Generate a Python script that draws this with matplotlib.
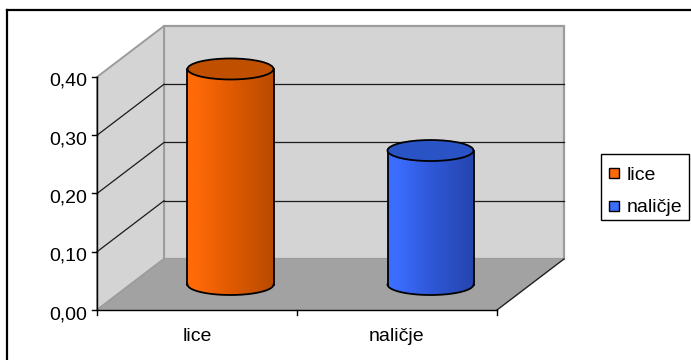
import numpy as np
import matplotlib
matplotlib.use("Agg")
import matplotlib.pyplot as plt
from matplotlib.patches import Polygon, Ellipse, Rectangle
from matplotlib.colors import LinearSegmentedColormap
from matplotlib.lines import Line2D
from matplotlib.transforms import offset_copy

# ---- data ----
categories = ["lice", "naličje"]
values = [0.37, 0.23]
y_ticks = [0.0, 0.1, 0.2, 0.3, 0.4]
y_tick_labels = ["0,00", "0,10", "0,20", "0,30", "0,40"]
legend_labels = ["lice", "naličje"]

# cylinder shading per series: (light side, middle, dark side, top face)
shades = [("#ff6a08", "#e05a00", "#b84a00", "#c05000"),
          ("#3b6dff", "#2f58d8", "#2545ae", "#2a53c6")]

plt.rcParams["font.family"] = ["Liberation Sans", "DejaVu Sans"]
FS = 14

W, H = 691, 360
fig = plt.figure(figsize=(W / 100, H / 100), dpi=100)
fig.patch.set_facecolor("white")

# front plane of the plot area, in pixels
PX_LEFT, PX_RIGHT = 97, 497
PX_ZERO, PX_TOP = 310, 77
Y_MAX = 0.4
n = len(categories)
px_per_cat = (PX_RIGHT - PX_LEFT) / n
px_per_unit = (PX_ZERO - PX_TOP) / Y_MAX

ax = fig.add_axes([0, 0, 1, 1])
ax.set_axis_off()
xlim = (-0.5 - PX_LEFT / px_per_cat, -0.5 + (W - PX_LEFT) / px_per_cat)
ylim = (-(H - PX_ZERO) / px_per_unit, PX_ZERO / px_per_unit)

# depth of the 3-D box (oblique projection)
DX = 67 / px_per_cat
DY = 51 / px_per_unit
x_lo, x_hi = -0.5, n - 0.5

wall_c = "#d4d4d4"
floor_c = "#a2a2a2"
edge_c = "#9c9c9c"

# back wall
ax.add_patch(Polygon([(x_lo + DX, DY), (x_hi + DX, DY),
                      (x_hi + DX, Y_MAX + DY), (x_lo + DX, Y_MAX + DY)],
                     closed=True, fc=wall_c, ec=edge_c, lw=1.6, zorder=1))
# side wall
ax.add_patch(Polygon([(x_lo, 0), (x_lo, Y_MAX), (x_lo + DX, Y_MAX + DY),
                      (x_lo + DX, DY)],
                     closed=True, fc=wall_c, ec=edge_c, lw=1.4, zorder=1))
# floor
ax.add_patch(Polygon([(x_lo, 0), (x_hi, 0), (x_hi + DX, DY), (x_lo + DX, DY)],
                     closed=True, fc=floor_c, ec="none", zorder=1.5))
ax.plot([x_hi, x_hi + DX], [0, DY], color="#202020", lw=1.0, zorder=2)
ax.plot([x_lo, x_lo + DX], [0, DY], color=edge_c, lw=1.2, zorder=2)

# gridlines on the back and side walls
for t in y_ticks[1:-1]:
    ax.plot([x_lo + DX, x_hi + DX], [t + DY, t + DY], color="#1a1a1a",
            lw=0.9, zorder=2)
    ax.plot([x_lo, x_lo + DX], [t, t + DY], color="#1a1a1a", lw=0.9, zorder=2)

# value axis
ax.plot([x_lo, x_lo], [0, Y_MAX], color="black", lw=1.0, zorder=3)
tick_dx = 5 / px_per_cat
tick_dy = 5 / px_per_unit
lab_tr = offset_copy(ax.transData, fig=fig, x=-9.5, y=-9, units="dots")
for t, lab in zip(y_ticks, y_tick_labels):
    ax.plot([x_lo - tick_dx, x_lo], [t, t], color="black", lw=1.0, zorder=3)
    ax.text(x_lo, t, lab, transform=lab_tr, ha="right", va="baseline",
            fontsize=FS, color="black")

# category axis
ax.plot([x_lo, x_hi], [0, 0], color="black", lw=1.0, zorder=3)
for b in np.arange(n + 1) - 0.5:
    ax.plot([b, b], [0, -tick_dy], color="black", lw=1.0, zorder=3)
cat_tr = offset_copy(ax.transData, fig=fig, x=0, y=-31, units="dots")
for i, c in enumerate(categories):
    ax.text(i, 0, c, transform=cat_tr, ha="center", va="baseline",
            fontsize=FS, color="black")

# cylinders
cyl_w = 86 / px_per_cat
ell_h = 21 / px_per_unit
grad = np.linspace(0, 1, 256).reshape(1, -1)
for i, (v, (light, mid, dark, top)) in enumerate(zip(values, shades)):
    xc = i + DX / 2
    yb = DY / 2
    yt = v + DY / 2
    xl, xr = xc - cyl_w / 2, xc + cyl_w / 2
    theta = np.linspace(np.pi, 2 * np.pi, 60)
    arc_x = xc + cyl_w / 2 * np.cos(theta)
    arc_y = yb + ell_h / 2 * np.sin(theta)
    verts = [(xl, yt)] + list(zip(arc_x, arc_y)) + [(xr, yt), (xl, yt)]
    body = Polygon(verts, closed=True, fc="none", ec="none", zorder=4)
    ax.add_patch(body)
    cmap = LinearSegmentedColormap.from_list(
        f"shade{i}", [(0, light), (0.1, light), (0.5, mid), (1, dark)])
    im = ax.imshow(grad, cmap=cmap, extent=[xl, xr, yb - ell_h, yt],
                   aspect="auto", interpolation="bilinear", zorder=4)
    im.set_clip_path(body)
    # outline of the body
    ax.plot([xl, xl], [yt, yb], color="black", lw=1.3, zorder=5)
    ax.plot([xr, xr], [yt, yb], color="black", lw=1.3, zorder=5)
    ax.plot(arc_x, arc_y, color="black", lw=1.3, zorder=5)
    # top face
    ax.add_patch(Ellipse((xc, yt), cyl_w, ell_h, fc=top, ec="black",
                         lw=1.3, zorder=6))

ax.set_xlim(*xlim)
ax.set_ylim(*ylim)


def fx(px):
    return px / W


def fy(py):
    return 1 - py / H


# legend
fig.add_artist(Rectangle((fx(601), fy(220)), fx(88), 66 / H, fill=False,
                         ec="black", lw=1.0, transform=fig.transFigure))
for k, (lab, sh) in enumerate(zip(legend_labels, shades)):
    cy = [173, 206][k]
    fig.add_artist(Rectangle((fx(609), fy(cy + 5)), fx(10), 10 / H,
                             fc=sh[0], ec="black", lw=1.0,
                             transform=fig.transFigure))
    fig.text(fx(627), fy(cy), lab, ha="left", va="center_baseline",
             fontsize=FS, color="black")

# chart frame
fig.add_artist(Line2D([fx(7), fx(7)], [0, fy(10)], color="black", lw=1.6,
                      transform=fig.transFigure))
fig.add_artist(Line2D([fx(7), 1], [fy(10), fy(10)], color="black", lw=1.6,
                      transform=fig.transFigure))

fig.savefig("out.png", dpi=100, facecolor="white")
